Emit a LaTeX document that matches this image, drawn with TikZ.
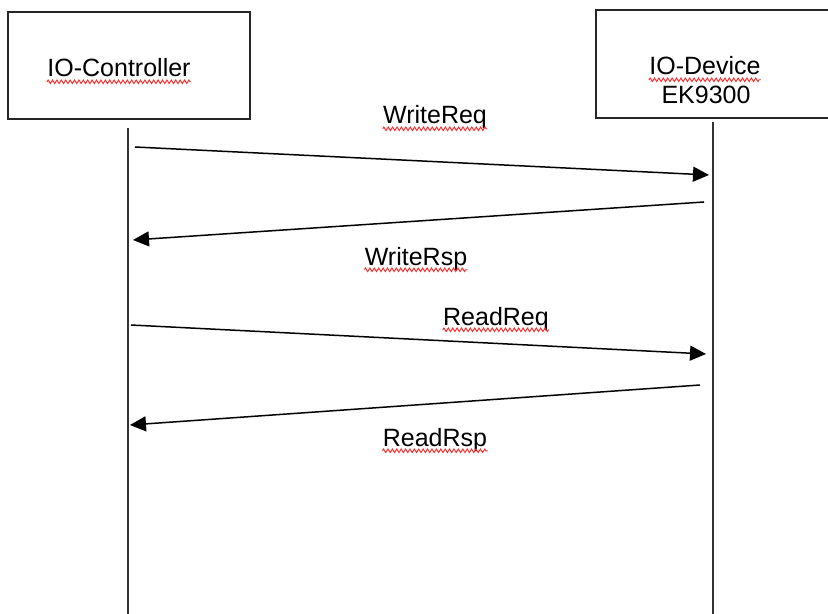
\documentclass[tikz,border=0pt]{standalone}
\usepackage{fontspec}
\setmainfont{Liberation Sans}
\usetikzlibrary{arrows.meta,decorations.pathmorphing}
\begin{document}
\begin{tikzpicture}[x=0.5pt,y=-0.5pt,
  box/.style={draw=black!85,line width=1pt},
  life/.style={draw=black!80,line width=1pt},
  msg/.style={draw=black,line width=0.75pt,-{Triangle[length=8pt,width=7.5pt]}},
  lbl/.style={font=\fontsize{12.5pt}{15pt}\selectfont,text=black,inner sep=0pt,anchor=base},
  wavy/.style={draw=red!85,line width=0.45pt,decorate,decoration={zigzag,segment length=2.2pt,amplitude=0.9pt}}]
\useasboundingbox[fill=white] (0,0) rectangle (828,614);
% boxes
\draw[box] (8,12) rectangle (250,119);
\draw[box] (828,10) -- (596,10) -- (596,118) -- (828,118);
% texts
\node[lbl] (ctl) at (119,77) {IO-Controller};
\node[lbl] (dev) at (705,75) {IO-Device};
\node[lbl] (ek) at (706,104) {EK9300};
\node[lbl] (wreq) at (435,124) {WriteReq};
\node[lbl] (wrsp) at (416,265) {WriteRsp};
\node[lbl] (rreq) at (496,325) {ReadReq};
\node[lbl] (rrsp) at (435,446) {ReadRsp};
\foreach \t in {ctl,dev,wreq,wrsp,rreq,rrsp}{
  \draw[wavy] ([yshift=-2.4pt]\t.base west) -- ([yshift=-2.4pt]\t.base east);
}
% lifelines
\coordinate (lt) at (128,128);
\coordinate (lb) at (128,614);
\coordinate (rt) at (713,122);
\coordinate (rb) at (713,614);
\draw[life] (lt) -- (lb);
\draw[life] (rt) -- (rb);
% message endpoints
\coordinate (a1) at (135,147);
\coordinate (b1) at (709,175);
\coordinate (a2) at (704,202);
\coordinate (b2) at (133,240);
\coordinate (a3) at (131,325);
\coordinate (b3) at (706,354);
\coordinate (a4) at (700,385);
\coordinate (b4) at (130,425);
\draw[msg] (a1) -- (b1);
\draw[msg] (a2) -- (b2);
\draw[msg] (a3) -- (b3);
\draw[msg] (a4) -- (b4);
\end{tikzpicture}
\end{document}
